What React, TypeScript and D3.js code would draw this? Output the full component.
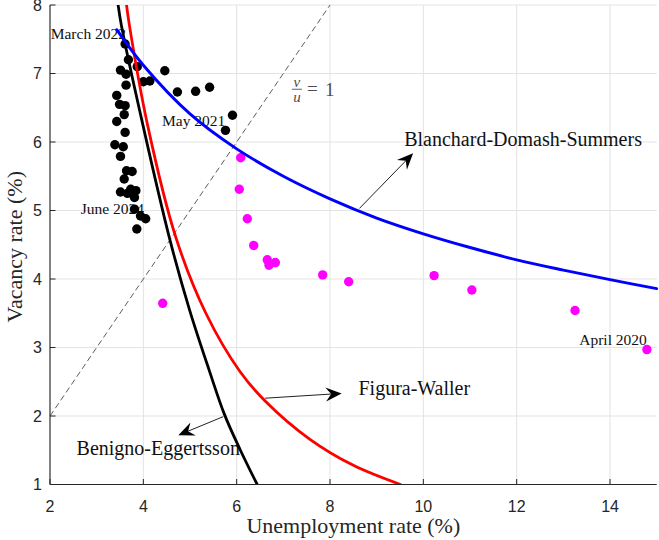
import React from 'react';
import * as d3 from 'd3';

const W = 659;
const H = 540;

const xTicks = [2, 4, 6, 8, 10, 12, 14];
const yTicks = [1, 2, 3, 4, 5, 6, 7, 8];

// Post-2021 observations (black)
const blackU = [3.61, 3.68, 3.87, 3.51, 3.63, 4.46, 4.0, 4.14, 3.63, 4.73, 5.12, 5.42, 3.43, 3.49, 3.61, 3.59, 5.91, 3.43, 5.76, 3.61, 3.39, 3.57, 3.51, 3.64, 3.76, 3.59, 3.73, 3.51, 3.66, 3.84, 3.81, 3.81, 3.94, 4.05, 3.86];
const blackV = [7.43, 7.2, 7.1, 7.05, 6.99, 7.04, 6.88, 6.89, 6.83, 6.73, 6.74, 6.8, 6.68, 6.55, 6.53, 6.4, 6.39, 6.3, 6.17, 6.14, 5.96, 5.93, 5.79, 5.58, 5.57, 5.46, 5.31, 5.27, 5.25, 5.29, 5.19, 5.02, 4.92, 4.88, 4.73];

// Pandemic observations (magenta)
const magU = [4.415, 14.79, 13.25, 11.04, 10.23, 8.4, 7.843, 6.828, 6.693, 6.656, 6.365, 6.228, 6.056, 6.086];
const magV = [3.645, 2.97, 3.54, 3.84, 4.05, 3.96, 4.06, 4.24, 4.2, 4.28, 4.49, 4.88, 5.31, 5.77];

// Blanchard-Domash-Summers curve (blue)
const bdsU = [3.43, 4, 5, 6, 7, 8, 9, 10, 11, 12, 13, 14, 15];
const bdsV = [7.64, 7.12, 6.41, 5.9, 5.5, 5.17, 4.89, 4.66, 4.46, 4.28, 4.13, 3.99, 3.86];

// Figura-Waller curve (red)
const fwU = [3.64, 3.7, 4.09, 4.7, 5.34, 6.07, 6.61, 7.57, 8.5, 9.51];
const fwV = [8.0, 7.71, 6.25, 4.6, 3.5, 2.65, 2.22, 1.66, 1.28, 1.0];

// Benigno-Eggertsson curve (black)
const beU = [3.46, 3.53, 3.99, 4.57, 4.99, 5.41, 5.74, 6.08, 6.44];
const beV = [8.0, 7.7, 6.25, 4.57, 3.55, 2.67, 2.02, 1.5, 1.0];

// v/u = 1 reference line
const vuU = [2, 8];
const vuV = [2, 8];

// Annotations (data coordinates)
const arrowNames = ['Blanchard-Domash-Summers', 'Figura-Waller', 'Benigno-Eggertsson'];
const arrowFromU = [8.63, 6.61, 5.71];
const arrowFromV = [5.03, 2.26, 1.99];
const arrowToU = [9.78, 8.25, 4.75];
const arrowToV = [5.835, 2.33, 1.72];
const arrowLabelU = [9.59, 8.61, 2.57];
const arrowLabelV = [5.94, 2.31, 1.43];

const dateLabels = ['March 2022', 'May 2021', 'June 2024', 'April 2020'];
const dateLabelU = [2.015, 4.4, 2.66, 13.34];
const dateLabelV = [7.5, 6.23, 4.95, 3.04];

const SERIF = '"Liberation Serif", "Times New Roman", serif';
const SANS = '"Liberation Sans", Arial, sans-serif';

export default function App() {
  React.useEffect(() => {
    document.body.style.margin = '0';
  }, []);

  const x = d3.scaleLinear().domain([2, 15]).range([50, 656.7]);
  const y = d3.scaleLinear().domain([1, 8]).range([484.5, 5]);
  const [x0, x1] = x.range();
  const [y0, y1] = y.range();

  const line = d3
    .line<[number, number]>()
    .x((d) => x(d[0]))
    .y((d) => y(d[1]))
    .curve(d3.curveCatmullRom.alpha(0.5));

  const zip = (a: number[], b: number[]) => a.map((v, i) => [v, b[i]] as [number, number]);

  const arrowHead = (fx: number, fy: number, tx: number, ty: number) => {
    const dx = tx - fx;
    const dy = ty - fy;
    const len = Math.hypot(dx, dy);
    const ux = dx / len;
    const uy = dy / len;
    const nx = -uy;
    const ny = ux;
    const L = 16;
    const Wd = 7;
    const N = 10.5;
    const c1 = [tx - ux * L + nx * Wd, ty - uy * L + ny * Wd];
    const c2 = [tx - ux * L - nx * Wd, ty - uy * L - ny * Wd];
    const nt = [tx - ux * N, ty - uy * N];
    return {
      path: `M${tx},${ty}L${c1[0]},${c1[1]}L${nt[0]},${nt[1]}L${c2[0]},${c2[1]}Z`,
      nt,
    };
  };

  const grid = '#e3e3e3';
  const axisCol = '#262626';

  return (
    <svg
      width={W}
      height={H}
      viewBox={`0 0 ${W} ${H}`}
      style={{ position: 'absolute', left: 0, top: 0, display: 'block', background: '#fff' }}
    >
      <defs>
        <clipPath id="plot">
          <rect x={x0} y={y1} width={x1 - x0 + 2} height={y0 - y1} />
        </clipPath>
      </defs>
      <rect width={W} height={H} fill="#fff" />

      {/* grid */}
      {xTicks.map((t) => (
        <line key={'gx' + t} x1={x(t)} x2={x(t)} y1={y1} y2={y0} stroke={grid} strokeWidth={1} />
      ))}
      {yTicks.map((t) => (
        <line key={'gy' + t} x1={x0} x2={x1} y1={y(t)} y2={y(t)} stroke={grid} strokeWidth={1} />
      ))}

      {/* v/u = 1 dashed line */}
      <line
        x1={x(vuU[0])}
        y1={y(vuV[0])}
        x2={x(vuU[1])}
        y2={y(vuV[1])}
        stroke="#333"
        strokeWidth={0.8}
        strokeDasharray="6,3.5"
      />

      {/* date labels */}
      {dateLabels.map((t, i) => (
        <text
          key={t}
          x={x(dateLabelU[i])}
          y={y(dateLabelV[i])}
          fontFamily={SERIF}
          fontSize={15.5}
          fill="#111"
        >
          {t}
        </text>
      ))}

      {/* arrow labels */}
      {arrowNames.map((t, i) => (
        <text
          key={t}
          x={x(arrowLabelU[i])}
          y={y(arrowLabelV[i])}
          fontFamily={SERIF}
          fontSize={20}
          fill="#111"
        >
          {t}
        </text>
      ))}

      {/* v/u = 1 label */}
      <g fill="#4d4d4d" fontFamily={SERIF}>
        <text x={x(7.29)} y={y(6.77) - 2.5} fontSize={15} fontStyle="italic" textAnchor="middle">
          v
        </text>
        <line x1={x(7.29) - 5} x2={x(7.29) + 5} y1={y(6.77)} y2={y(6.77)} stroke="#4d4d4d" strokeWidth={0.9} />
        <text x={x(7.29)} y={y(6.77) + 12.5} fontSize={15} fontStyle="italic" textAnchor="middle">
          u
        </text>
        <text x={x(7.29) + 10} y={y(6.77) + 6} fontSize={19}>
          =
        </text>
        <text x={x(7.29) + 28} y={y(6.77) + 6.5} fontSize={19}>
          1
        </text>
      </g>

      {/* scatter */}
      <g>
        {magU.map((u, i) => (
          <circle key={'m' + i} cx={x(u)} cy={y(magV[i])} r={4.7} fill="#ff00ff" />
        ))}
        {blackU.map((u, i) => (
          <circle key={'b' + i} cx={x(u)} cy={y(blackV[i])} r={4.7} fill="#000" />
        ))}
      </g>

      {/* curves */}
      <g clipPath="url(#plot)" fill="none" strokeLinecap="round">
        <path d={line(zip(beU, beV)) || ''} stroke="#000" strokeWidth={2.8} />
        <path d={line(zip(fwU, fwV)) || ''} stroke="#ff0000" strokeWidth={2.8} />
        <path d={line(zip(bdsU, bdsV)) || ''} stroke="#0000ff" strokeWidth={2.9} />
      </g>

      {/* arrows */}
      {arrowNames.map((t, i) => {
        const fx = x(arrowFromU[i]);
        const fy = y(arrowFromV[i]);
        const tx = x(arrowToU[i]);
        const ty = y(arrowToV[i]);
        const h = arrowHead(fx, fy, tx, ty);
        return (
          <g key={'a' + t}>
            <line x1={fx} y1={fy} x2={h.nt[0]} y2={h.nt[1]} stroke="#222" strokeWidth={1} />
            <path d={h.path} fill="#000" />
          </g>
        );
      })}

      {/* axes */}
      <line x1={x0} x2={x0} y1={y1} y2={y0} stroke={axisCol} strokeWidth={1.1} />
      <line x1={x0} x2={x1} y1={y0} y2={y0} stroke={axisCol} strokeWidth={1.1} />
      {xTicks.map((t) => (
        <g key={'tx' + t}>
          <line x1={x(t)} x2={x(t)} y1={y0} y2={y0 - 5.5} stroke={axisCol} strokeWidth={1} />
          <text x={x(t)} y={511.5} fontFamily={SANS} fontSize={16} textAnchor="middle" fill={axisCol}>
            {t}
          </text>
        </g>
      ))}
      {yTicks.map((t) => (
        <g key={'ty' + t}>
          <line x1={x0} x2={x0 + 5.5} y1={y(t)} y2={y(t)} stroke={axisCol} strokeWidth={1} />
          <text
            x={42}
            y={y(t) + 5.8}
            fontFamily={SANS}
            fontSize={16}
            textAnchor="end"
            fill={axisCol}
          >
            {t}
          </text>
        </g>
      ))}

      {/* axis titles */}
      <text
        x={(x0 + x1) / 2}
        y={533}
        fontFamily={SERIF}
        fontSize={22}
        textAnchor="middle"
        fill={axisCol}
      >
        Unemployment rate (%)
      </text>
      <text
        transform={`translate(22,${(y0 + y1) / 2 + 2}) rotate(-90)`}
        fontFamily={SERIF}
        fontSize={22}
        textAnchor="middle"
        fill={axisCol}
      >
        Vacancy rate (%)
      </text>
    </svg>
  );
}
